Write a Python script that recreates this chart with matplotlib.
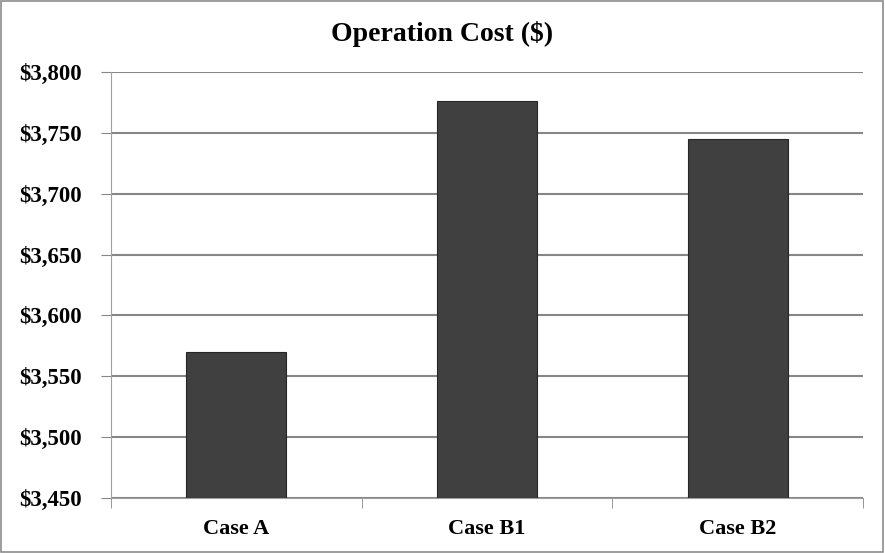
import matplotlib
matplotlib.use("Agg")
import matplotlib.pyplot as plt
from matplotlib.ticker import FuncFormatter, FixedLocator

# Values
cases = ["Case A", "Case B1", "Case B2"]
costs = [3570, 3776, 3745]
yTicks = [3450, 3500, 3550, 3600, 3650, 3700, 3750, 3800]

plt.rcParams['font.family'] = ['Liberation Serif', 'DejaVu Serif']
plt.rcParams['font.weight'] = 'bold'

fig = plt.figure(figsize=(8.85, 5.53), dpi=100)
ax = fig.add_axes([0.1254, 0.0995, 0.8497, 0.7703])

x = list(range(len(cases)))
ax.bar(x, [c - yTicks[0] for c in costs], bottom=yTicks[0], width=0.4,
       color="#404040", edgecolor="#262626", linewidth=0.8, zorder=3)

ax.set_xlim(-0.5, len(cases) - 0.5)
ax.set_ylim(yTicks[0], yTicks[-1])
ax.set_yticks(yTicks)
ax.yaxis.set_major_formatter(FuncFormatter(lambda v, p: "${:,.0f}".format(v)))

# Category labels in the middle, tick marks at the boundaries
ax.set_xticks(x)
ax.set_xticklabels(cases)
ax.tick_params(axis="x", which="major", length=0, pad=15, labelsize=16)
ax.xaxis.set_minor_locator(FixedLocator([-0.5, 0.5, 1.5, 2.5]))
ax.tick_params(axis="x", which="minor", length=7, color="#868686", direction="out")
ax.tick_params(axis="y", length=7, color="#868686", labelsize=16.5, pad=14)

ax.grid(True, axis="y", color="#868686", linewidth=1.5, zorder=0)
for s in ["top", "right"]:
    ax.spines[s].set_visible(False)
ax.spines["left"].set_color("#a0a0a0")
ax.spines["bottom"].set_color("#a0a0a0")

fig.text(0.5, 0.938, "Operation Cost ($)", ha="center", va="center",
         fontsize=20, fontweight="bold")

# Chart frame
fig.patches.append(plt.Rectangle((0.001, 0.001), 0.997, 0.997, transform=fig.transFigure,
                                 fill=False, edgecolor="#8c8c8c", linewidth=1.2))

plt.savefig("out.png", dpi=100)
